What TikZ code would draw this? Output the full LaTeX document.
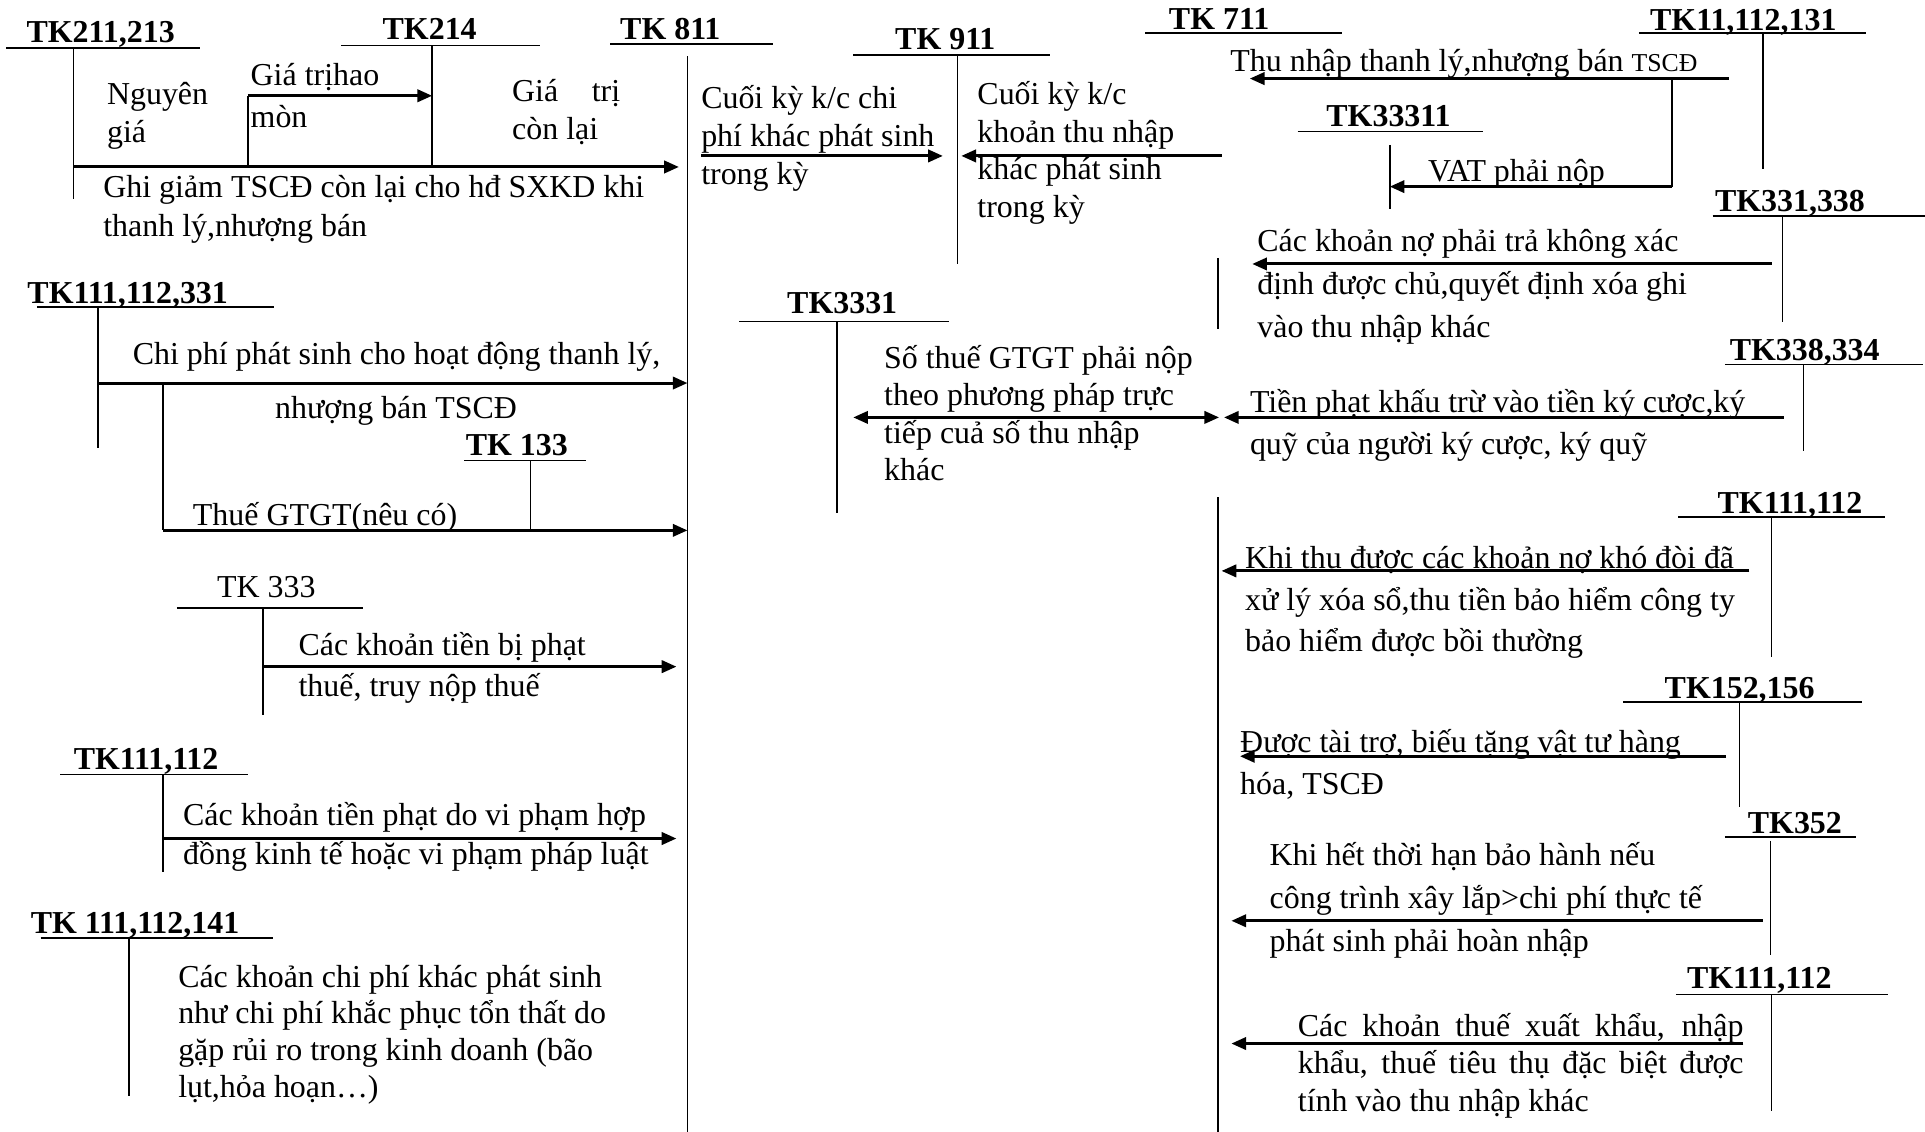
\documentclass[tikz,border=0pt]{standalone}
\usepackage{fontspec}
\setmainfont{Liberation Serif}
\usetikzlibrary{arrows.meta}
\newcommand\mlin[2]{\vtop{\baselineskip=#1\lineskiplimit=-100pt\lineskip=0pt\halign{##\hfil\cr#2\crcr}}}
\tikzset{
  tkb/.style={font=\fontsize{26}{30}\selectfont\bfseries, inner sep=0pt, anchor=base},
  tkr/.style={font=\fontsize{26}{30}\selectfont, inner sep=0pt, anchor=base},
  txt/.style={font=\fontsize{26}{30}\selectfont, inner sep=0pt, anchor=base west},
  tline/.style={line width=1.3pt},
  arr/.style={line width=2.4pt, -{Triangle[length=12pt,width=10pt]}},
  darr/.style={line width=2.4pt, {Triangle[length=12pt,width=10pt]}-{Triangle[length=12pt,width=10pt]}},
}
\begin{document}
\begin{tikzpicture}[x=1pt,y=-1pt]
\useasboundingbox (0,0) rectangle (1568,922);
\fill[white] (0,0) rectangle (1568,922);

% ---------- T-account headers ----------
\node[tkb] (tk211) at (82,35) {TK211,213};
\draw[tline] (5,39) -- (163,39) (60,39) -- (60,162);
\node[tkb] (tk214) at (350,32) {TK214};
\draw[tline] (278,37) -- (440,37) (352,37) -- (352,136);
\node[tkb] (tk811) at (546,32) {TK 811};
\draw[tline] (497,36) -- (630,36) (560,46) -- (560,922);
\node[tkb] (tk911) at (770,40) {TK 911};
\draw[tline] (695,45) -- (855,45) (780,45) -- (780,215);
\node[tkb] (tk711) at (993,24) {TK 711};
\draw[tline] (933,27) -- (1093,27) (992,210) -- (992,268) (992,405) -- (992,922);
\node[tkb] (tk111a) at (1420,25) {TK11,112,131};
\draw[tline] (1335,27) -- (1520,27) (1436,27) -- (1436,138);
\node[tkb] (tk33311) at (1131,103) {TK33311};
\draw[tline] (1057,107) -- (1208,107) (1132,118) -- (1132,170);
\node[tkb] (tk331) at (1458,172) {TK331,338};
\draw[tline] (1395,176) -- (1568,176) (1452,176) -- (1452,262);
\node[tkb] (tk111b) at (104,247) {TK111,112,331};
\draw[tline] (30,250) -- (223,250) (80,250) -- (80,365);
\node[tkb] (tk133) at (421,371) {TK 133};
\draw[tline] (378,375) -- (477,375) (432,375) -- (432,432);
\node[tkb] (tk3331) at (686,255) {TK3331};
\draw[tline] (602,262) -- (773,262) (682,262) -- (682,418);
\node[tkb] (tk338) at (1470,294) {TK338,334};
\draw[tline] (1405,297) -- (1566,297) (1469,297) -- (1469,367);
\node[tkr] (tk333) at (217,487) {TK 333};
\draw[tline] (144,495) -- (296,495) (214,495) -- (214,582);
\node[tkb] (tk111c) at (119,627) {TK111,112};
\draw[tline] (49,631) -- (202,631) (133,631) -- (133,710);
\node[tkb] (tk111d) at (110,760) {TK 111,112,141};
\draw[tline] (33,764) -- (222,764) (105,764) -- (105,893);
\node[tkb] (tk111e) at (1458,418) {TK111,112};
\draw[tline] (1367,421) -- (1535,421) (1443,421) -- (1443,535);
\node[tkb] (tk152) at (1417,569) {TK152,156};
\draw[tline] (1322,572) -- (1517,572) (1417,572) -- (1417,657);
\node[tkb] (tk352) at (1462,679) {TK352};
\draw[tline] (1405,682) -- (1512,682) (1442,685) -- (1442,778);
\node[tkb] (tk111f) at (1433,805) {TK111,112};
\draw[tline] (1365,810) -- (1538,810) (1443,810) -- (1443,905);

% ---------- texts ----------
\node[txt] (t1) at (87,85) {\mlin{31pt}{Nguyên\cr giá}};
\node[txt] (t2) at (204,70) {\mlin{34pt}{Giá trịhao\cr mòn}};
\node[txt] (t3) at (417,83) {\mlin{31pt}{\hbox to 88pt{Giá trị}\cr còn lại}};
\node[txt] (t4) at (84,161) {\mlin{32pt}{Ghi giảm TSCĐ còn lại cho hđ SXKD khi\cr thanh lý,nhượng bán}};
\node[txt] (t5) at (108,297) {Chi phí phát sinh cho hoạt động thanh lý,};
\node[txt] (t6) at (224,341) {nhượng bán TSCĐ};
\node[txt] (t7) at (157,428) {Thuế GTGT(nêu có)};
\node[txt] (t8) at (243,534) {\mlin{33pt}{Các khoản tiền bị phạt\cr thuế, truy nộp thuế}};
\node[txt] (t9) at (149,672) {\mlin{32pt}{Các khoản tiền phạt do vi phạm hợp\cr đồng kinh tế hoặc vi phạm pháp luật}};
\node[txt] (t10) at (145,804) {\mlin{30pt}{Các khoản chi phí khác phát sinh\cr như chi phí khắc phục tổn thất do\cr gặp rủi ro trong kinh doanh (bão\cr lụt,hỏa hoạn…)}};
\node[txt] (t11) at (571,88) {\mlin{31pt}{Cuối kỳ k/c chi\cr phí khác phát sinh\cr trong kỳ}};
\node[txt] (t12) at (796,85) {\mlin{30.7pt}{Cuối kỳ k/c\cr khoản thu nhập\cr khác phát sinh\cr trong kỳ}};
\node[txt] (t13) at (720,300) {\mlin{30.5pt}{Số thuế GTGT phải nộp\cr theo phương pháp trực\cr tiếp cuả số thu nhập\cr khác}};
\node[txt] (t14) at (1002,58) {Thu nhập thanh lý,nhượng bán {\fontsize{21}{25}\selectfont TSCĐ}};
\node[txt] (t15) at (1163,148) {VAT phải nộp};
\node[txt] (t16) at (1024,205) {\mlin{35pt}{Các khoản nợ phải trả không xác\cr định được chủ,quyết định xóa ghi\cr vào thu nhập khác}};
\node[txt] (t17) at (1018,336) {\mlin{34pt}{Tiền phạt khấu trừ vào tiền ký cược,ký\cr quỹ của người ký cược, ký quỹ}};
\node[txt] (t18) at (1014,463) {\mlin{34pt}{Khi thu được các khoản nợ khó đòi đã\cr xử lý xóa sổ,thu tiền bảo hiểm công ty\cr bảo hiểm được bồi thường}};
\node[txt] (t19) at (1010,613) {\mlin{34pt}{Được tài trợ, biếu tặng vật tư hàng\cr hóa, TSCĐ}};
\node[txt] (t20) at (1034,705) {\mlin{35pt}{Khi hết thời hạn bảo hành nếu\cr công trình xây lắp>chi phí thực tế\cr phát sinh phải hoàn nhập}};
\node[txt] (t21) at (1057,844) {\mlin{30.5pt}{\hbox to 363pt{Các khoản thuế xuất khẩu, nhập}\cr \hbox to 363pt{khẩu, thuế tiêu thụ đặc biệt được}\cr tính vào thu nhập khác}};

% ---------- connector end points ----------
\path (202,78) coordinate (a1s) (352,78) coordinate (a1e) (202,136) coordinate (a1b)
      (60,136) coordinate (a2s) (553,136) coordinate (a2e)
      (80,312) coordinate (a3s) (560,312) coordinate (a3e) (133,312) coordinate (a4t)
      (133,432) coordinate (a4s) (560,432) coordinate (a4e)
      (214,543) coordinate (a5s) (551,543) coordinate (a5e)
      (133,683) coordinate (a6s) (551,683) coordinate (a6e)
      (571,127) coordinate (a7s) (768,127) coordinate (a7e)
      (995,127) coordinate (a8s) (783,127) coordinate (a8e)
      (1408,64) coordinate (a9s) (1018,64) coordinate (a9e)
      (1362,64) coordinate (a10s) (1362,152) coordinate (a10m) (1132,152) coordinate (a10e)
      (1443,215) coordinate (a11s) (1020,215) coordinate (a11e)
      (1453,340) coordinate (a12s) (997,340) coordinate (a12e)
      (695,340) coordinate (a13s) (993,340) coordinate (a13e)
      (1425,465) coordinate (a14s) (995,465) coordinate (a14e)
      (1406,616) coordinate (a15s) (1010,616) coordinate (a15e)
      (1436,750) coordinate (a16s) (1003,750) coordinate (a16e)
      (1420,850) coordinate (a17s) (1003,850) coordinate (a17e);

% ---------- connectors ----------
\draw[tline] (a1b) -- (a1s);
\draw[arr] (a1s) -- (a1e);
\draw[arr] (a2s) -- (a2e);
\draw[arr] (a3s) -- (a3e);
\draw[tline] (a4t) -- (a4s);
\draw[arr] (a4s) -- (a4e);
\draw[arr] (a5s) -- (a5e);
\draw[arr] (a6s) -- (a6e);
\draw[arr] (a7s) -- (a7e);
\draw[arr] (a8s) -- (a8e);
\draw[arr] (a9s) -- (a9e);
\draw[tline] (a10s) -- (a10m);
\draw[arr] (a10m) -- (a10e);
\draw[arr] (a11s) -- (a11e);
\draw[arr] (a12s) -- (a12e);
\draw[darr] (a13s) -- (a13e);
\draw[arr] (a14s) -- (a14e);
\draw[arr] (a15s) -- (a15e);
\draw[arr] (a16s) -- (a16e);
\draw[arr] (a17s) -- (a17e);
\end{tikzpicture}
\end{document}
